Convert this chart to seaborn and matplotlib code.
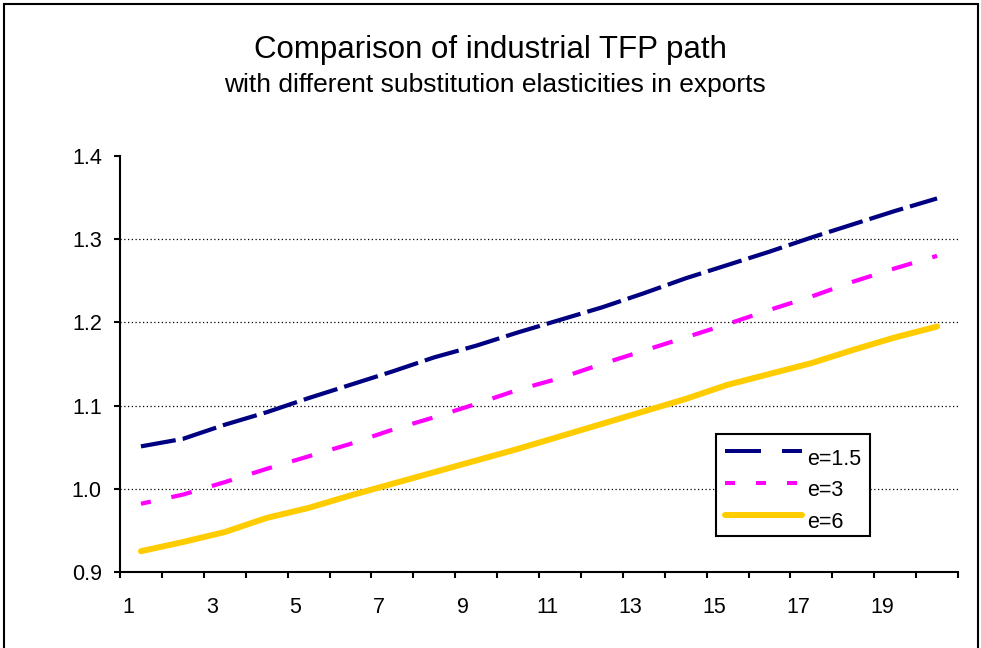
import numpy as np
import pandas as pd
import matplotlib
matplotlib.use("Agg")
import matplotlib.pyplot as plt
import matplotlib.transforms as mtransforms
from matplotlib.lines import Line2D
from matplotlib.patches import Rectangle
import seaborn as sns

# Donnees (periodes 1 a 20)
periods = list(range(1, 21))
tfp_e15 = [1.051, 1.060, 1.077, 1.092, 1.109, 1.125, 1.141, 1.158, 1.172, 1.188,
           1.203, 1.218, 1.235, 1.253, 1.269, 1.285, 1.302, 1.318, 1.334, 1.349]
tfp_e3 = [0.982, 0.993, 1.008, 1.024, 1.039, 1.054, 1.071, 1.086, 1.102, 1.119,
          1.133, 1.150, 1.166, 1.182, 1.198, 1.215, 1.231, 1.249, 1.265, 1.280]
tfp_e6 = [0.925, 0.936, 0.948, 0.965, 0.977, 0.992, 1.006, 1.020, 1.034, 1.048,
          1.063, 1.078, 1.093, 1.108, 1.125, 1.138, 1.151, 1.167, 1.182, 1.195]
series_names = ["e=1.5", "e=3", "e=6"]
x_labels = [str(p) for p in periods[::2]]
y_ticks = [0.9, 1.0, 1.1, 1.2, 1.3, 1.4]

df = pd.DataFrame({
    "period": periods * 3,
    "tfp": tfp_e15 + tfp_e3 + tfp_e6,
    "elasticity": np.repeat(series_names, len(periods)),
})

sns.set_theme(style="white")
plt.rcParams["font.family"] = ["Liberation Sans", "DejaVu Sans"]
plt.rcParams["text.color"] = "black"
plt.rcParams["xtick.color"] = "black"
plt.rcParams["ytick.color"] = "black"

fig = plt.figure(figsize=(9.81, 6.48), dpi=100)
ax = fig.add_axes([120 / 981, 1 - 572 / 648, 838 / 981, 416 / 648])

px = 0.72  # 1 pixel en points
colors = {"e=1.5": "#000080", "e=3": "#FF00FF", "e=6": "#FFCC00"}
widths = {"e=1.5": 4.2 * px, "e=3": 4.2 * px, "e=6": 6 * px}
styles = {"e=1.5": (0, (8.4, 1.7)), "e=3": (2.6, (5.0, 5.0)), "e=6": "-"}

for name in series_names:
    sub = df[df["elasticity"] == name]
    sns.lineplot(data=sub, x="period", y="tfp", ax=ax, color=colors[name],
                 linewidth=widths[name], linestyle=styles[name],
                 solid_capstyle="round", dash_capstyle="butt", legend=False)

# grille pointillee
for yv in y_ticks[1:-1]:
    ax.axhline(yv, color="black", linestyle=(0, (1, 2)), linewidth=0.9, zorder=0)

ax.set_xlim(0.5, 20.5)
ax.set_ylim(0.9, 1.4)
ax.set_xticks(np.arange(0.5, 21, 1))
ax.set_xticklabels([])
ax.set_xticks(periods[::2], minor=True)
ax.set_xticklabels(x_labels, minor=True)
ax.tick_params(axis="x", which="major", direction="out", length=4.5, width=1.5,
               bottom=True)
ax.tick_params(axis="x", which="minor", length=0, pad=18, labelsize=15.5)
offset = mtransforms.ScaledTranslation(-13 / 100, 0, fig.dpi_scale_trans)
for lab in ax.xaxis.get_minorticklabels():
    lab.set_transform(lab.get_transform() + offset)

ax.set_yticks(y_ticks)
ax.set_yticklabels([f"{v:.1f}" for v in y_ticks])
ax.tick_params(axis="y", direction="out", length=4.5, width=1.5,
               left=True, pad=8.6, labelsize=15.5)
ax.set_xlabel("")
ax.set_ylabel("")
for side in ["top", "right"]:
    ax.spines[side].set_visible(False)
for side in ["left", "bottom"]:
    ax.spines[side].set_color("black")
    ax.spines[side].set_linewidth(1.5)
ax.grid(False)

# legende
handles = [
    Line2D([], [], color=colors["e=1.5"], linewidth=4 * px, linestyle=(0, (9, 5.25))),
    Line2D([], [], color=colors["e=3"], linewidth=4 * px, linestyle=(0, (2.5, 5.25))),
    Line2D([], [], color=colors["e=6"], linewidth=6 * px, solid_capstyle="round"),
]
leg = ax.legend(handles, series_names, loc="upper left",
                bbox_to_anchor=(716 / 981, 1 - 434 / 648),
                bbox_transform=fig.transFigure, borderaxespad=0,
                fontsize=15.5, handlelength=3.6, handletextpad=0.25,
                labelspacing=0.5, borderpad=0.4, fancybox=False,
                frameon=True, framealpha=1, edgecolor="black")
leg.get_frame().set_linewidth(1.5)
for t in leg.get_texts():
    t.set_y(-6)

# titre
fig.text(490 / 981, 1 - 50 / 648, "Comparison of industrial TFP path",
         ha="center", va="center", fontsize=22.5)
fig.text(495 / 981, 1 - 85 / 648, "with different substitution elasticities in exports",
         ha="center", va="center", fontsize=19)

# cadre du graphique
fig.patches.append(Rectangle((4 / 981, -0.1), 974 / 981, 1.1 - 4 / 648,
                             transform=fig.transFigure, fill=False,
                             edgecolor="black", linewidth=1.5, clip_on=False))

fig.savefig("out.png", dpi=100)
